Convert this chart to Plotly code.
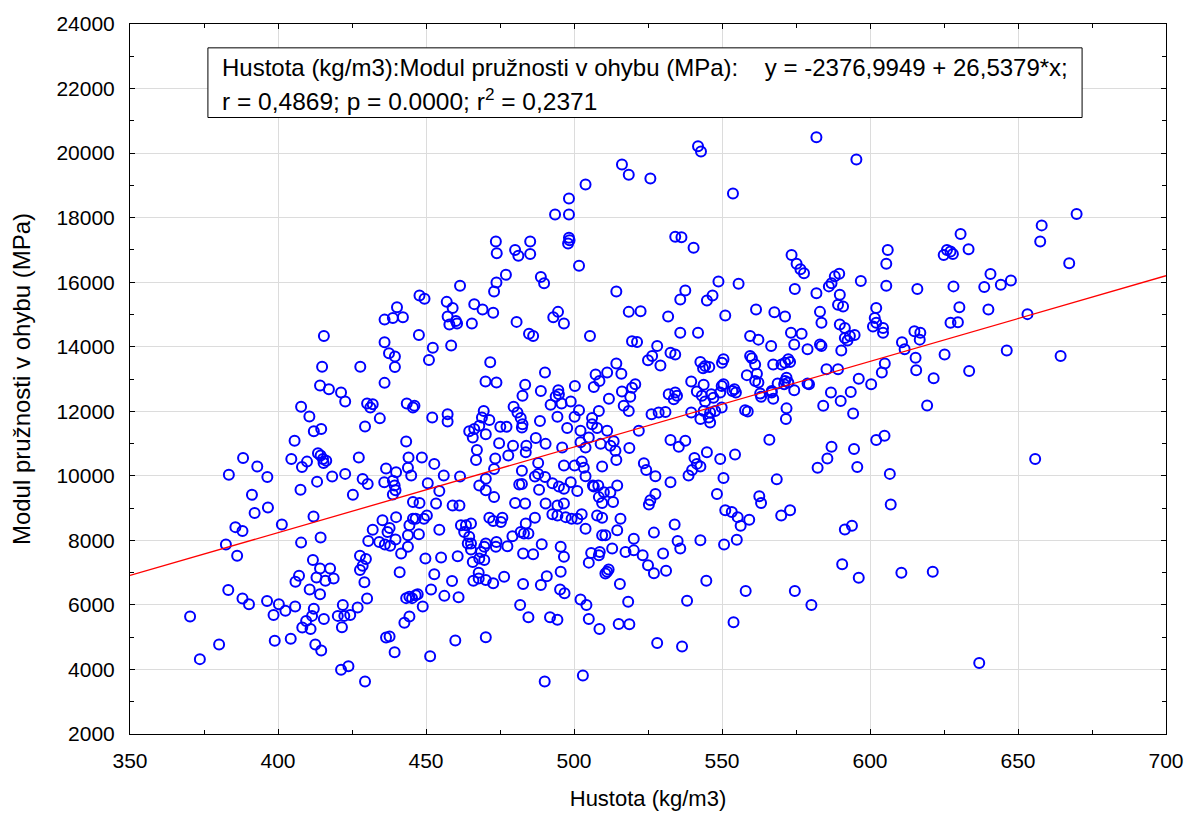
import plotly.graph_objects as go

# ---- data (density kg/m3, bending modulus MPa) ----
density_left = [436,415.5,436,437.5,439.5,439.5,436,414.9,427.8,414.2,417.2,421.3,422.7,
                430.1,432,431.2,434.4,407.8,410.6,412.1,414.6,429.4,405.6,
                413.5,414.4,415.2,416.3,415.4,404.5,409.8,408.1,388.2,393,396.4,383.4,
                413.2,418.3,422.7,427.3,428.6,430.3,435.9,436.5,407.6,391.2,425.3,396.6,392.1,
                385.6,388,401.3,412,382.4,386.2,407.8,414.4,435.3,432,437,430.5,434.2,436.1,
                411.8,427.7,429.7,414.2,417.6,427.7,428.6,407.1,405.9,413,416,418.8,429.2,410.7,414.2,
                383.2,388,390.2,396.3,400.3,402.5,405.8,398.5,412.1,411.5,409.5,408.2,411,415.5,
                421.9,420.2,422.4,424.4,426.9,421.6,430.1,370.3,380.1,373.6,398.9,404.3,412.6,414.6,
                421.3,423.8,429.4,436.5,439.4]
modulus_left = [14840,14330,14140,13800,13700,13370,12880,13380,13380,12800,12680,12580,12300,
                12240,12220,12120,11780,12140,11840,11380,11450,11530,11090,
                10700,10630,10520,10470,10400,10520,10440,10270,10550,10290,9960,10030,
                9820,9980,10060,10570,9900,9750,9800,10230,9570,9410,9410,9020,8850,
                8410,8290,8490,8740,7870,7520,7930,8090,8620,8330,8260,7980,7950,7870,
                7390,7520,7420,7130,7130,7080,7210,6900,6720,6850,6750,6820,6700,6480,6330,
                6460,6200,6020,6120,6020,5820,5950,5690,5880,5660,5500,5300,5250,5560,
                6000,5660,5660,5690,5920,5310,6200,5640,4770,4320,4890,4950,4770,4590,
                3990,4100,3630,4990,4530]

density_top = [516.2,518.5,503.9,498.3,493.6,498.3,498.3,498.5,498,473.6,473.9,480.1,481.2,485.2,485.2,501.7,
               477,473.8,473,488.8,489.9,461.5,447.8,449.5,457,459,466.3,469.1,472.7,
               514.3,518.5,522.5,440.2,438.8,442.2,457.3,460.1,457.9,460.5,465.5,480.6,494.6,493,496.6,
               581.9,541.9,542.9,595.4,525.8,553.7,534.2,536.3,540.4,573.5,575.2,576.5,577.7,588.1,589.6,587,586.1,
               596.9,606,605.5,605.5,548.8,555.6,537.6,535.9,546.8,544.9,574.6,581.9,589.8,589.2,590.9,602.1,
               531.8,551.1,561.5,567.7,571.3,583.1,583.6,601.6,602.1,601,604.4,589.8,591.5,
               669.8,658,657.5,667.3,630.6,633.3,626,627.2,624.9,628,616,628.2,640.7,638.6,644.2,647.6,
               630.2,640,653.2,627.2,629.7,615,617]
modulus_top = [19650,19330,19030,18590,18100,18100,17380,17300,17200,17260,16900,17000,16820,17260,16870,16510,
               16230,15990,15710,16160,15970,15890,15590,15490,15390,15200,15320,15150,15050,
               15710,15080,15100,15220,14890,14910,14940,14800,14690,14720,14720,14770,15080,14910,14720,
               20490,20210,20050,19800,19210,18750,17410,17390,17070,16840,16570,16400,16280,16180,16260,15970,15870,
               16040,17000,16570,15890,16020,15950,15740,15460,15590,15430,15790,15660,15610,15300,15250,15200,
               14940,14970,15150,15070,14940,15080,14740,14890,14740,14630,14580,14690,14580,
               18110,17760,17260,16590,17490,17020,17000,16950,16840,16870,15790,15870,16250,15850,15920,16050,
               15220,15150,15010,14740,14760,14480,14430]

density_mid = [447.6,484.8,486.2,505.4,519.6,521.3,452.3,458.5,451,471.7,
               470.1,473.8,490.2,483.5,488.8,482.6,494.7,494.9,493.8,495.8,492.1,498.9,500.3,
               514.3,511.2,507.3,508.6,506.7,516,520.7,519.6,516.2,519,511.8,516.8,518.5,
               443.5,445.6,446.1,452.1,457.3,457.3,469.5,468.9,471.4,468,466.3,464.6,465.8,470.2,475.1,477.2,
               479.6,480.9,482,482.6,482.4,488.5,494.4,497.7,500.2,501.7,502.2,
               506.1,508.4,506.1,507.8,511.2,505,487.1,490.4,474.7,479.4,483.9,483.7,443.3,
               513.4,512.3,514,514.3,518.7,509,521.9,503.9,502.2,496,
               467.2,466.9,473.4,477.8,487.9,487.9,496.6,500.2,502.6,503.3,503.9,509.5,506.4,
               444.1,448.6,452.8,443.9,445,439.9,438.8,456,461.5,450.6,454.5,439.4,439.7,438.8,
               473,470.2,468,470.2,473,482.4,482.4,481.5,
               486.8,490.2,492.7,494.9,496.6,498.9,501.1,488.2,
               506.7,508.2,510.1,512.3,514.6,508.4,509.5,513.2,
               480.1,483.5,445.6,447.8,453.4,459,461.3,490.4,494.4,496.6]
modulus_mid = [14360,14400,14330,14330,14170,14150,13970,14040,13590,13520,
               12920,12890,13200,12820,12630,12480,12650,12530,12460,12240,12200,12300,12780,
               13480,13200,13140,12940,12750,13160,12840,12730,12610,12450,12390,12170,12010,
               12240,12120,12170,11810,11910,11680,12010,11810,11730,11550,11450,11380,11190,11290,11520,11520,
               12140,11960,11790,11600,11500,11700,11830,11480,11830,12030,11400,
               11790,12010,11600,11480,11400,11190,11170,10990,11010,10930,10930,10730,11060,
               11070,10930,10780,10490,10860,10990,11400,10880,11040,10880,
               10800,10490,10540,10630,10400,10060,10320,10320,10440,10250,9990,10290,9700,
               10570,10570,10370,10250,10010,10110,9850,10010,9980,9770,9530,9700,9550,9420,
               10210,9910,9700,9550,9340,10160,9750,9730,
               9980,9960,9770,9670,9600,9800,9530,9570,
               9670,9700,9490,9490,9700,9340,9160,9190,
               9160,9140,9190,9160,9140,9080,9080,9140,9080,9140]

density_low = [439.9,437.7,439.7,437.9,443.9,444.4,445.6,446.5,447.6,449.3,450.3,
               443.9,441.6,454.5,449.8,455.1,460.7,441.1,452.8,458.8,451.7,456.2,461,
               444.4,445.3,446.5,443.3,447.2,448.9,444.4,442.7,437.7,459.9,451.4,470.2,
               461.8,463.5,465.2,462.9,464.6,465.2,465.2,464.1,465.8,468,469.7,468.6,470.2,469.7,
               466,467.8,467.8,470.2,472.7,476.4,471.4,472.7,475.3,475.8,473.8,473.6,477.5,479.2,
               482,483.1,484.6,483.7,482.8,486.2,489.1,486.8,482.8,481.8,484.6,488.8,490.8,491.9,494.4,
               495.5,496.6,495.5,495.3,496.8,503.9,492.7,494.4,497.2,499.2,501.1,502.6,
               505,505.8,508.7,508.4,509.5,510.6,511.2,510.6,511.7,512.9,514.6,515.7,517.4,520.2,520.2,507.8,509.5,
               502.2,504.2,505,508.6,515.5,518.3,515.1,518.7,490.1,503]
modulus_low = [8720,8380,8030,7830,8160,8470,8670,8670,8190,8670,8770,
               7800,7590,8330,7440,7470,7510,7010,6950,6740,6480,6280,6240,
               6250,6210,6300,6210,6330,5950,5640,5450,5020,4900,4410,5000,
               8470,8470,8520,8260,8110,7900,7720,7900,7330,7440,7390,7640,7900,7800,
               6750,6820,7000,6770,6670,6870,8700,8600,8570,8700,7950,7800,7820,8130,
               8260,8210,8210,8520,7590,7570,7880,8700,6650,6000,5620,6620,6890,5620,5540,
               7800,7490,7030,6480,6360,8360,8810,8770,8720,8670,8670,8810,
               7310,7610,7640,7540,8160,8160,7030,6970,7100,7750,8310,8670,7640,7690,8050,8770,8700,
               6170,6000,5560,5250,6650,6100,5410,5400,3630,3810]

density_right = [535.9,541.9,559.5,562.3,566.6,573.3,576.9,574.4,578.9,583.1,583.6,590.3,591.5,593.2,594.8,592.4,604.4,
                 528.1,526.4,525,529.2,532.6,534.2,542.7,544.3,545.7,543.6,550.5,550,
                 559.5,560.1,561.2,567.3,571.3,572.4,573,570.1,585.3,589.2,605,
                 539.6,543.8,541.5,543.2,546.4,547.1,549.4,549.9,550.5,532,534.2,533.7,534.8,
                 558.4,561.8,562.3,561.2,554.2,554.7,553.5,562.9,563.2,566.8,567.3,566.8,
                 568.8,571.3,571.8,571,572.4,574.4,578.9,579.4,584.2,586.8,590.1,593.5,596.2,600.4,604,
                 544.3,543.8,546,542.7,545.5,546,547.7,549.9,526.2,528.6,530.9,539.6,
                 557.8,558.7,571.8,571.6,594.3,532.6,537.6,535.4,566,
                 587,585.6,582.3,594.6,595.7,602.1,604.9,523.6,524.4,527.5,532.6,
                 540.7,544.9,549.4,554.4,541.5,542.7,539.9,538.7,550.5,548.3,527.5,525.8,525.3,
                 562.6,563.2,568.5,606.7,607,
                 610.8,611.7,616.8,615.4,615.6,625.2,621.5,633.5,646.2,664.4,619.3,655.8,
                 551.1,553.3,555.3,559.2,556.3,570,573,534,527,535,535.9,542.7,550.7,555,
                 523.2,525,527,530.1,531.1,544.7,538.2,558,553.9,528.1,536.5,574.6,580.2,590.6,596.2,591.5,593.9,
                 610.6,621.2,636.9]
modulus_right = [14430,14430,14330,14220,14020,14430,14400,14070,13920,14070,14020,13880,14270,14330,14360,14190,14430,
                 14020,13710,13580,13420,13810,13760,13530,13400,13370,13330,13610,13500,
                 13710,13640,13450,13450,13500,13610,13530,13450,13300,13300,13480,
                 12920,12820,12610,12480,12530,12420,12580,12780,12840,12530,12580,12370,12480,
                 13120,13160,12890,12940,12680,12580,12630,12550,12450,12580,12390,12630,
                 12860,12940,13040,12840,12890,12650,12860,12840,12170,12580,12320,12600,13010,12840,13200,
                 12300,12010,11960,11760,11810,11650,12010,12120,11910,11960,11980,11960,
                 12030,11990,12090,11760,11930,11110,11090,10900,11120,
                 10900,10540,10250,10830,10270,11110,11240,10390,10180,9990,9800,
                 10550,10730,10520,10660,10370,10290,10180,10010,9930,9440,9440,9240,9110,
                 9370,9160,9890,10060,9110,
                 14140,13920,14220,13660,13270,13760,13020,13250,13880,13710,12180,10520,
                 8930,8880,8720,8640,8450,8770,8930,8490,8240,7980,7750,8000,7870,8020,
                 7540,7230,6980,7590,7060,6750,6130,6430,5460,4820,4710,6430,6000,7260,6840,8340,8450,
                 7000,7030,4200]

intercept = -2376.9949
slope = 26.5379
x_range = [350, 700]
y_range = [2000, 24000]

density = density_left + density_top + density_mid + density_low + density_right
modulus = modulus_left + modulus_top + modulus_mid + modulus_low + modulus_right

FONT = "Liberation Sans, Arial, sans-serif"

fig = go.Figure()
fig.add_trace(go.Scatter(
    x=density, y=modulus, mode="markers",
    marker=dict(symbol="circle-open", size=10, color="#0000ff",
                line=dict(width=2, color="#0000ff")),
    showlegend=False, hoverinfo="skip"))
fig.add_trace(go.Scatter(
    x=x_range, y=[intercept + slope * v for v in x_range], mode="lines",
    line=dict(color="#ff0000", width=1.3), showlegend=False, hoverinfo="skip"))

axis_common = dict(showgrid=True, gridcolor="#dcdcdc", gridwidth=1,
                   showline=True, linecolor="black", linewidth=1, mirror="ticks",
                   ticks="inside", ticklen=5, tickcolor="black", zeroline=False,
                   tickfont=dict(family=FONT, size=21, color="black"))

fig.update_xaxes(range=x_range, tick0=350, dtick=50, tickformat="d",
                 minor=dict(ticks="inside", dtick=25, ticklen=4, tickcolor="black", showgrid=False),
                 title=dict(text="Hustota (kg/m3)", font=dict(family=FONT, size=22, color="black"), standoff=19),
                 ticklabelstandoff=8,
                 **axis_common)
fig.update_yaxes(range=y_range, tick0=2000, dtick=2000, tickformat="d",
                 minor=dict(ticks="inside", dtick=1000, ticklen=4, tickcolor="black", showgrid=False),
                 title=dict(text="Modul pružnosti v ohybu (MPa)", font=dict(family=FONT, size=24, color="black"), standoff=18),
                 ticklabelstandoff=10,
                 **axis_common)

fig.add_shape(type="rect", xref="paper", yref="paper", x0=0.0752, x1=0.919, y0=0.8683, y1=0.9664,
              line=dict(color="black", width=1), fillcolor="white", layer="above")
fig.add_annotation(xref="paper", yref="paper", x=0.0865, y=0.9384, xanchor="left", yanchor="middle",
                   showarrow=False, align="left",
                   text="Hustota (kg/m3):Modul pružnosti v ohybu (MPa):    y = -2376,9949 + 26,5379*x;",
                   font=dict(family=FONT, size=24, color="black"))
fig.add_annotation(xref="paper", yref="paper", x=0.0865, y=0.8936, xanchor="left", yanchor="middle",
                   showarrow=False, align="left",
                   text="r = 0,4869; p = 0.0000; r<sup>2</sup> = 0,2371",
                   font=dict(family=FONT, size=24.5, color="black"))

fig.update_layout(width=1196, height=819, margin=dict(l=130, r=29, t=21, b=84),
                  plot_bgcolor="white", paper_bgcolor="white",
                  font=dict(family=FONT, size=20, color="black"))

fig.write_html("out.html", config={"displayModeBar": False},
               post_script="document.body.style.margin='0px';")
